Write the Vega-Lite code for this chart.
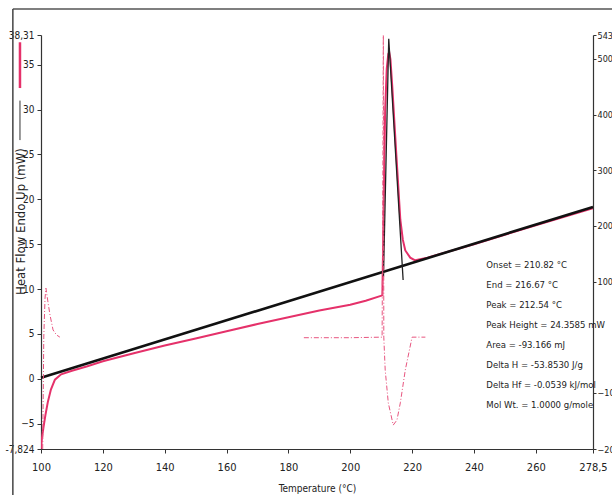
{
  "$schema": "https://vega.github.io/schema/vega-lite/v6.json",
  "width": 552,
  "height": 414,
  "autosize": {"type": "none"},
  "padding": {"left": 41, "top": 35, "right": 19, "bottom": 46},
  "background": "white",
  "config": {
    "view": {"stroke": null},
    "font": "Liberation Sans Narrow, DejaVu Sans Condensed, sans-serif",
    "axis": {
      "grid": false,
      "domainColor": "#333333",
      "domainWidth": 1.2,
      "tickColor": "#333333",
      "tickSize": 4,
      "labelFlush": false,
      "labelFont": "Liberation Sans Narrow, DejaVu Sans Condensed, sans-serif",
      "labelFontSize": 10,
      "labelColor": "#222222",
      "titleFont": "Liberation Sans Narrow, DejaVu Sans Condensed, sans-serif",
      "titleFontWeight": "normal",
      "titleColor": "#222222"
    }
  },
  "datasets": {
    "heatflow": [
      {"T": 100.0, "mW": -7.8}, {"T": 100.3, "mW": -6.6}, {"T": 100.8, "mW": -5.4},
      {"T": 101.4, "mW": -4.1}, {"T": 102.2, "mW": -2.6}, {"T": 103.2, "mW": -1.2},
      {"T": 104.5, "mW": -0.1}, {"T": 106.5, "mW": 0.5}, {"T": 110, "mW": 0.9},
      {"T": 115, "mW": 1.4}, {"T": 120, "mW": 1.95}, {"T": 130, "mW": 2.85},
      {"T": 140, "mW": 3.7}, {"T": 150, "mW": 4.5}, {"T": 160, "mW": 5.3},
      {"T": 170, "mW": 6.1}, {"T": 180, "mW": 6.85}, {"T": 190, "mW": 7.6},
      {"T": 200, "mW": 8.25}, {"T": 205, "mW": 8.7}, {"T": 210.4, "mW": 9.3},
      {"T": 210.6, "mW": 14}, {"T": 210.9, "mW": 22}, {"T": 211.3, "mW": 30},
      {"T": 211.8, "mW": 34.5}, {"T": 212.3, "mW": 36.2}, {"T": 212.6, "mW": 36.4},
      {"T": 213.0, "mW": 35.6}, {"T": 213.6, "mW": 32.5}, {"T": 214.9, "mW": 25},
      {"T": 216.2, "mW": 17.7}, {"T": 217.0, "mW": 15.5}, {"T": 217.8, "mW": 14.3},
      {"T": 219.4, "mW": 13.5}, {"T": 221, "mW": 13.2}, {"T": 225, "mW": 13.5},
      {"T": 240, "mW": 15.0}, {"T": 260, "mW": 17.1}, {"T": 278.5, "mW": 19.0}
    ],
    "baseline": [
      {"T": 100, "mW": 0.12}, {"T": 278.5, "mW": 19.15}
    ],
    "peakline": [
      {"T": 210.75, "mW": 11.4}, {"T": 212.45, "mW": 37.9}, {"T": 217.1, "mW": 11.0}
    ],
    "derivative": [
      {"seg": "a", "T": 100.55, "d": -201}, {"seg": "a", "T": 100.9, "d": 0},
      {"seg": "a", "T": 101.3, "d": 70}, {"seg": "a", "T": 101.6, "d": 88},
      {"seg": "a", "T": 102.2, "d": 65}, {"seg": "a", "T": 102.9, "d": 40},
      {"seg": "a", "T": 103.9, "d": 13}, {"seg": "a", "T": 105, "d": 4},
      {"seg": "a", "T": 106.1, "d": 0},
      {"seg": "b", "T": 185, "d": -1}, {"seg": "b", "T": 200, "d": -1},
      {"seg": "b", "T": 210.3, "d": 0}, {"seg": "b", "T": 210.55, "d": 300},
      {"seg": "b", "T": 210.7, "d": 560}, {"seg": "b", "T": 210.8, "d": 300},
      {"seg": "b", "T": 210.85, "d": 0}, {"seg": "b", "T": 211.3, "d": -59},
      {"seg": "b", "T": 212.3, "d": -118}, {"seg": "b", "T": 213.9, "d": -158},
      {"seg": "b", "T": 215.1, "d": -149}, {"seg": "b", "T": 216.2, "d": -118},
      {"seg": "b", "T": 217.8, "d": -59}, {"seg": "b", "T": 220, "d": 0},
      {"seg": "b", "T": 224.3, "d": 0}
    ]
  },
  "layer": [
    {
      "layer": [
        {
          "data": {"name": "heatflow"},
          "mark": {"type": "line", "color": "#e5316a", "strokeWidth": 2, "clip": true},
          "encoding": {
            "x": {
              "field": "T", "type": "quantitative",
              "title": "Temperature (°C)",
              "scale": {"domain": [100, 278.5], "nice": false, "zero": false},
              "axis": {
                "values": [100, 120, 140, 160, 180, 200, 220, 240, 260, 278.5],
                "labelExpr": "datum.value == 278.5 ? '278,5' : datum.label",
                "title": "Temperature (°C)",
                "titleFontSize": 10,
                "titlePadding": 11,
                "labelPadding": 8,
                "labelFontSize": 11
              }
            },
            "y": {
              "field": "mW", "type": "quantitative",
              "scale": {"domain": [-7.824, 38.31], "nice": false, "zero": false},
              "axis": {
                "values": [-7.824, -5, 0, 5, 10, 15, 20, 25, 30, 35, 38.31],
                "labelExpr": "abs(datum.value - 38.31) < 0.01 ? '38,31' : abs(datum.value + 7.824) < 0.01 ? '-7,824' : format(datum.value, 'd')",
                "title": "Heat Flow Endo Up (mW)",
                "titleFontSize": 13,
                "titleX": -21,
                "titleY": 186,
                "titleBaseline": "middle",
                "titleAngle": 270,
                "labelPadding": 3
              }
            }
          }
        },
        {
          "data": {"name": "baseline"},
          "mark": {"type": "line", "color": "#111111", "strokeWidth": 2.6},
          "encoding": {
            "x": {"field": "T", "type": "quantitative", "title": "Temperature (°C)"},
            "y": {"field": "mW", "type": "quantitative"}
          }
        },
        {
          "data": {"name": "peakline"},
          "mark": {"type": "line", "color": "#222222", "strokeWidth": 1.3},
          "encoding": {
            "x": {"field": "T", "type": "quantitative", "title": "Temperature (°C)"},
            "y": {"field": "mW", "type": "quantitative"}
          }
        },
        {
          "data": {"values": [{}]},
          "mark": {"type": "rule", "color": "#555555", "strokeWidth": 1.5},
          "encoding": {
            "x": {"datum": 90.9, "type": "quantitative", "title": "Temperature (°C)"},
            "x2": {"datum": 287},
            "y": {"datum": 41.2, "type": "quantitative"}
          }
        },
        {
          "data": {"values": [{}]},
          "mark": {"type": "rule", "color": "#444444", "strokeWidth": 1.5},
          "encoding": {
            "x": {"datum": 90.9, "type": "quantitative", "title": "Temperature (°C)"},
            "y": {"datum": 41.2, "type": "quantitative"},
            "y2": {"datum": -14}
          }
        },
        {
          "data": {"values": [{}]},
          "mark": {"type": "rule", "color": "#e5316a", "strokeWidth": 2.5},
          "encoding": {
            "x": {"datum": 93.2, "type": "quantitative", "title": "Temperature (°C)"},
            "y": {"datum": 37.5, "type": "quantitative"},
            "y2": {"datum": 32.4}
          }
        },
        {
          "data": {"values": [{}]},
          "mark": {"type": "rule", "color": "#333333", "strokeWidth": 1},
          "encoding": {
            "x": {"datum": 93.2, "type": "quantitative", "title": "Temperature (°C)"},
            "y": {"datum": 31.0, "type": "quantitative"},
            "y2": {"datum": 26.6}
          }
        },
        {
          "data": {"values": [{}]},
          "mark": {
            "type": "text",
            "text": [
              "Onset = 210.82 °C",
              "End = 216.67 °C",
              "Peak = 212.54 °C",
              "Peak Height = 24.3585 mW",
              "Area = -93.166 mJ",
              "Delta H = -53.8530 J/g",
              "Delta Hf = -0.0539 kJ/mol",
              "Mol Wt. = 1.0000 g/mole"
            ],
            "align": "left",
            "baseline": "middle",
            "fontSize": 9.5,
            "lineHeight": 20,
            "color": "#222222"
          },
          "encoding": {
            "x": {"datum": 244.0, "type": "quantitative", "title": "Temperature (°C)"},
            "y": {"datum": 12.69, "type": "quantitative"}
          }
        }
      ]
    },
    {
      "data": {"name": "derivative"},
      "mark": {"type": "line", "color": "#e8557f", "strokeWidth": 1, "strokeDash": [5, 2, 1, 2], "clip": true},
      "encoding": {
        "x": {"field": "T", "type": "quantitative", "title": "Temperature (°C)"},
        "y": {
          "field": "d", "type": "quantitative",
          "scale": {"domain": [-201, 543], "nice": false, "zero": false},
          "axis": {
            "orient": "right",
            "values": [-201, -100, 100, 200, 300, 400, 500, 543],
            "title": null,
            "tickSize": 3,
            "labelPadding": 1,
            "labelFontSize": 9
          }
        },
        "detail": {"field": "seg"}
      }
    }
  ],
  "resolve": {"scale": {"y": "independent"}}
}
